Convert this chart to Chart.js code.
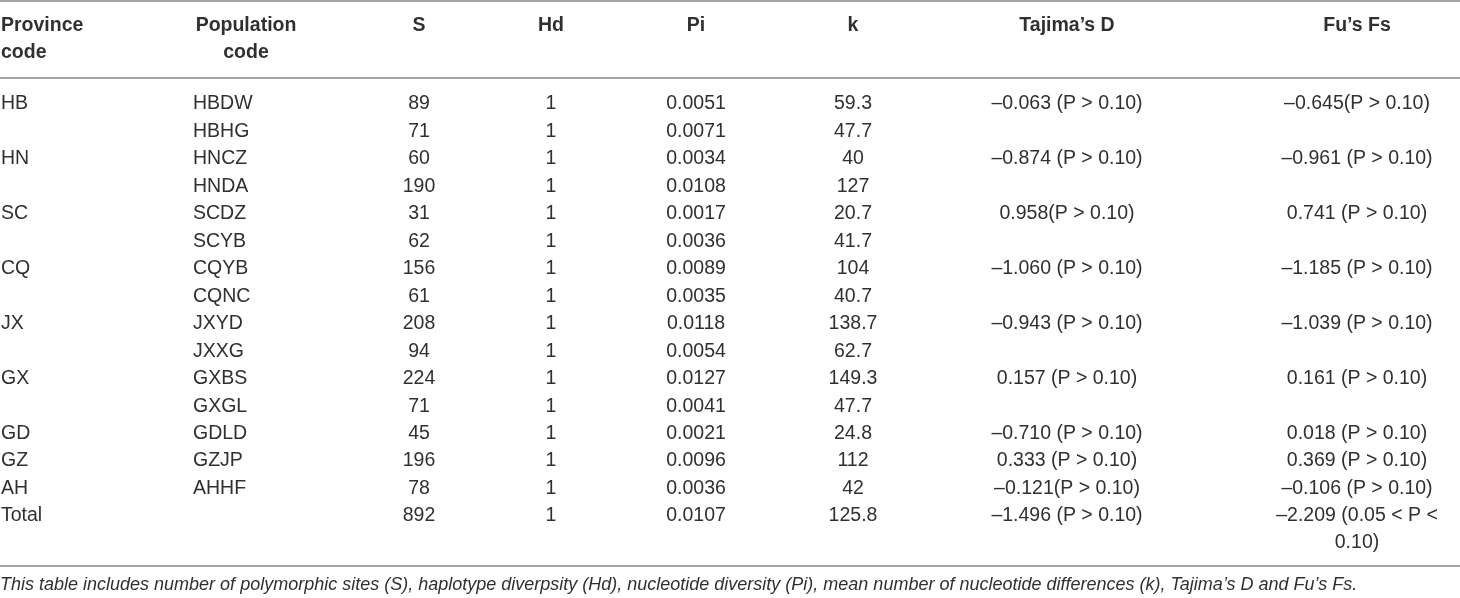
<!DOCTYPE html>
<html>
<head>
<meta charset="utf-8">
<script src="https://cdn.jsdelivr.net/npm/chart.js@4.4.1/dist/chart.umd.min.js"></script>
<style>
  html, body { margin: 0; padding: 0; background: #fff; }
  #wrap { width: 1460px; height: 598px; position: relative; }
</style>
</head>
<body>
<div id="wrap"><canvas id="tbl"></canvas></div>
<script>
// table data
const headers = ["Province\ncode", "Population\ncode", "S", "Hd", "Pi", "k", "Tajima’s D", "Fu’s Fs"];
const provinces = ["HB", "", "HN", "", "SC", "", "CQ", "", "JX", "", "GX", "", "GD", "GZ", "AH", "Total"];
const populations = ["HBDW", "HBHG", "HNCZ", "HNDA", "SCDZ", "SCYB", "CQYB", "CQNC", "JXYD", "JXXG", "GXBS", "GXGL", "GDLD", "GZJP", "AHHF", ""];
const sValues = [89, 71, 60, 190, 31, 62, 156, 61, 208, 94, 224, 71, 45, 196, 78, 892];
const hdValues = [1, 1, 1, 1, 1, 1, 1, 1, 1, 1, 1, 1, 1, 1, 1, 1];
const piValues = [0.0051, 0.0071, 0.0034, 0.0108, 0.0017, 0.0036, 0.0089, 0.0035, 0.0118, 0.0054, 0.0127, 0.0041, 0.0021, 0.0096, 0.0036, 0.0107];
const kValues = [59.3, 47.7, 40, 127, 20.7, 41.7, 104, 40.7, 138.7, 62.7, 149.3, 47.7, 24.8, 112, 42, 125.8];
const tajimaD = ["–0.063 (P > 0.10)", "", "–0.874 (P > 0.10)", "", "0.958(P > 0.10)", "", "–1.060 (P > 0.10)", "",
  "–0.943 (P > 0.10)", "", "0.157 (P > 0.10)", "", "–0.710 (P > 0.10)", "0.333 (P > 0.10)", "–0.121(P > 0.10)", "–1.496 (P > 0.10)"];
const fuFs = ["–0.645(P > 0.10)", "", "–0.961 (P > 0.10)", "", "0.741 (P > 0.10)", "", "–1.185 (P > 0.10)", "",
  "–1.039 (P > 0.10)", "", "0.161 (P > 0.10)", "", "0.018 (P > 0.10)", "0.369 (P > 0.10)", "–0.106 (P > 0.10)", "–2.209 (0.05 < P <\n0.10)"];
const caption = "This table includes number of polymorphic sites (S), haplotype diverpsity (Hd), nucleotide diversity (Pi), mean number of nucleotide differences (k), Tajima’s D and Fu’s Fs.";

// layout (x in px units of the x scale, y in row units of the y scale)
const colX = [1, 193, 419, 551, 696, 853, 1067, 1357];
const colAlign = ["left", "left", "center", "center", "center", "center", "center", "center"];
const headX = [1, 246, 419, 551, 696, 853, 1067, 1357];
const headAlign = ["left", "center", "center", "center", "center", "center", "center", "center"];
const headRow = -2.84;
const rowGap = 0.983; // second text line, in rows
const rules = [-3.75, -0.946, 16.82];
const captionRow = 17.51;

const FONT = '"Liberation Sans", Arial, sans-serif';
const INK = "#303030";
const RULE = "#a5a5a5";

const columns = [
  provinces,
  populations,
  sValues.map(String),
  hdValues.map(String),
  piValues.map((v) => v.toFixed(4)),
  kValues.map(String),
  tajimaD,
  fuFs,
];

function textSet(label, xs, ys, texts, align, font) {
  return {
    type: "scatter",
    label: label,
    data: xs.map((x, i) => ({ x: x, y: ys[i] })),
    cellText: texts,
    cellAlign: align,
    cellFont: font,
    pointRadius: 0,
    clip: false,
  };
}

const datasets = [];

// horizontal rules
rules.forEach((r, i) => {
  datasets.push({
    type: "line",
    label: "rule" + i,
    data: [{ x: 0, y: r }, { x: 1460, y: r }],
    borderColor: RULE,
    borderWidth: 2,
    pointRadius: 0,
    clip: false,
  });
});

// header cells
datasets.push(textSet("header", headX, headers.map(() => headRow), headers, headAlign, "bold 19.5px " + FONT));

// body cells, one dataset per column
columns.forEach((col, c) => {
  const rows = col.map((_, r) => r);
  datasets.push(textSet("col" + c, col.map(() => colX[c]), rows, col, colAlign.map(() => colAlign[c]), "19.5px " + FONT));
});

// footnote
datasets.push(textSet("caption", [0], [captionRow], [caption], ["left"], "italic 18px " + FONT));

const cellTextPlugin = {
  id: "cellText",
  afterDatasetsDraw(chart) {
    const ctx = chart.ctx;
    const yScale = chart.scales.y;
    const lineH = Math.abs(yScale.getPixelForValue(rowGap) - yScale.getPixelForValue(0));
    chart.data.datasets.forEach((ds, i) => {
      if (!ds.cellText) return;
      const meta = chart.getDatasetMeta(i);
      ctx.save();
      ctx.font = ds.cellFont;
      ctx.fillStyle = INK;
      ctx.textBaseline = "middle";
      meta.data.forEach((pt, j) => {
        const txt = ds.cellText[j];
        if (!txt) return;
        ctx.textAlign = Array.isArray(ds.cellAlign) ? ds.cellAlign[j] : ds.cellAlign;
        txt.split("\n").forEach((line, n) => {
          ctx.fillText(line, pt.x, pt.y + n * lineH);
        });
      });
      ctx.restore();
    });
  },
};

new Chart(document.getElementById("tbl").getContext("2d"), {
  type: "scatter",
  data: { datasets: datasets },
  options: {
    responsive: true,
    maintainAspectRatio: false,
    animation: false,
    events: [],
    layout: { padding: 0 },
    plugins: { legend: { display: false }, tooltip: { enabled: false } },
    scales: {
      x: { type: "linear", min: 0, max: 1460, display: false },
      y: { type: "linear", min: -3.786, max: 17.984, reverse: true, display: false },
    },
  },
  plugins: [cellTextPlugin],
});
</script>
</body>
</html>
